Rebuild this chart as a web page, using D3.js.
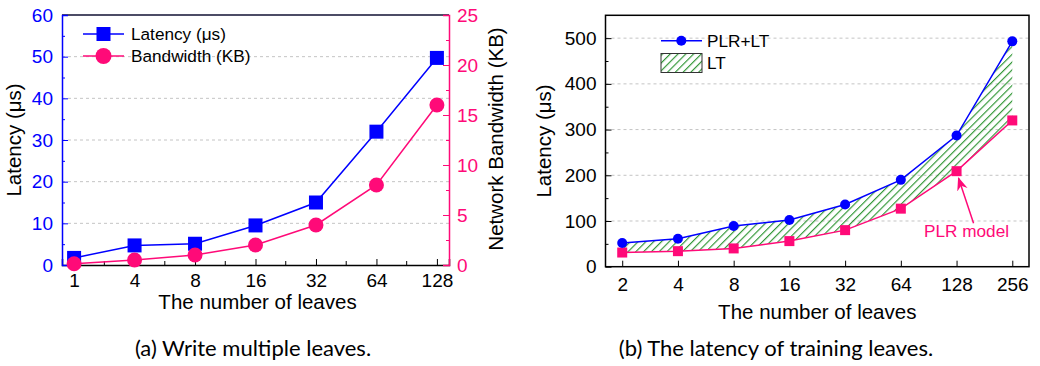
<!DOCTYPE html>
<html>
<head>
<meta charset="utf-8">
<script src="https://cdn.jsdelivr.net/npm/d3@7"></script>
<style>
body { margin: 0; background: #fff; }
svg text { font-family: "Liberation Sans", Arimo, Arial, sans-serif; }
svg text.caption { font-family: Lato, "Open Sans", sans-serif; }
</style>
</head>
<body>
<svg id="chart" width="1040" height="366" font-family="Liberation Sans, Arial, sans-serif"></svg>
<script>
// panel (a): write multiple leaves
const leavesA = ["1", "4", "8", "16", "32", "64", "128"];
const latencyA = [1.7, 4.7, 5.1, 9.5, 15, 32, 49.7];
const bandwidthA = [0.125, 0.5, 1, 2, 4, 8, 16];
const latTicksA = [0, 10, 20, 30, 40, 50, 60];
const bwTicksA = [0, 5, 10, 15, 20, 25];

// panel (b): latency of training leaves
const leavesB = ["2", "4", "8", "16", "32", "64", "128", "256"];
const plrLt = [52, 61, 89, 102, 136, 190, 287, 493];
const plr = [31, 34, 40, 56, 80, 127, 209, 320];
const latTicksB = [0, 100, 200, 300, 400, 500];

const blue = "#0000ff", pink = "#ff0a78", green = "#25902a";

const svg = d3.select("#chart");

// hatch for the LT area
const defs = svg.append("defs");
defs.append("pattern")
    .attr("id", "hatch")
    .attr("patternUnits", "userSpaceOnUse")
    .attr("width", 5.5).attr("height", 5.5)
    .attr("patternTransform", "rotate(45)")
  .append("line")
    .attr("x1", 0.6).attr("y1", 0).attr("x2", 0.6).attr("y2", 5.5)
    .attr("stroke", green).attr("stroke-width", 1.1);
defs.append("marker")
    .attr("id", "arrow")
    .attr("viewBox", "0 0 10 10")
    .attr("refX", 9).attr("refY", 5)
    .attr("markerWidth", 9).attr("markerHeight", 9)
    .attr("orient", "auto")
  .append("path")
    .attr("d", "M0,1 L10,5 L0,9 L3,5 Z")
    .attr("fill", pink);

// small helper: minor ticks halfway between point categories
function midpoints(x, cats) {
    let out = [];
    for (let i = 0; i < cats.length - 1; i++) out.push((x(cats[i]) + x(cats[i + 1])) / 2);
    return out;
}

// ---------------- panel (a) ----------------
function drawA() {
    const L = 62, R = 449, T = 15, B = 265;
    let x = d3.scalePoint().domain(leavesA).range([L, R]).padding(0.2);
    let y = d3.scaleLinear().domain([0, 60]).range([B, T]);
    let y2 = d3.scaleLinear().domain([0, 25]).range([B, T]);
    let g = svg.append("g");

    // grid
    g.selectAll(".grid").data(latTicksA.slice(1, -1)).enter().append("line")
        .attr("x1", L).attr("x2", R).attr("y1", d => y(d)).attr("y2", d => y(d))
        .attr("stroke", "#c4c4c4").attr("stroke-dasharray", "3,3");

    // top border
    g.append("line").attr("x1", L).attr("x2", R).attr("y1", T).attr("y2", T)
        .attr("stroke", "#111133").attr("stroke-width", 1.5);

    // bottom axis
    let xa = g.append("g").attr("transform", `translate(0,${B})`)
        .call(d3.axisBottom(x).tickSize(-6).tickPadding(5));
    xa.attr("font-family", null);
    xa.select(".domain").attr("stroke", "#000").attr("stroke-width", 1.5);
    xa.selectAll("text").attr("font-size", 19).attr("fill", "#000").attr("dy", "0.9em");
    g.selectAll(".xminor").data(midpoints(x, leavesA)).enter().append("line")
        .attr("x1", d => d).attr("x2", d => d).attr("y1", B).attr("y2", B - 4)
        .attr("stroke", "#000");

    // left axis (blue)
    let ya = g.append("g").attr("transform", `translate(${L},0)`)
        .call(d3.axisLeft(y).tickValues(latTicksA).tickSize(-6).tickPadding(9));
    ya.attr("font-family", null);
    ya.select(".domain").attr("stroke", blue).attr("stroke-width", 1.5);
    ya.selectAll("line").attr("stroke", blue);
    ya.selectAll("text").attr("font-size", 19).attr("fill", blue);
    g.append("g").attr("transform", `translate(${L},0)`)
        .call(d3.axisLeft(y).tickValues(d3.range(5, 60, 10)).tickSize(-3).tickFormat(""))
        .call(a => a.select(".domain").remove())
        .selectAll("line").attr("stroke", blue);

    // right axis (pink)
    let yb = g.append("g").attr("transform", `translate(${R},0)`)
        .call(d3.axisRight(y2).tickValues(bwTicksA).tickSize(-6).tickPadding(8));
    yb.attr("font-family", null);
    yb.select(".domain").attr("stroke", pink).attr("stroke-width", 1.5);
    yb.selectAll("line").attr("stroke", pink);
    yb.selectAll("text").attr("font-size", 19).attr("fill", pink);
    g.append("g").attr("transform", `translate(${R},0)`)
        .call(d3.axisRight(y2).tickValues(d3.range(2.5, 25, 5)).tickSize(-3).tickFormat(""))
        .call(a => a.select(".domain").remove())
        .selectAll("line").attr("stroke", pink);

    // titles
    g.append("text").attr("transform", "translate(21,140) rotate(-90)")
        .attr("text-anchor", "middle").attr("font-size", 20.5).text("Latency (μs)");
    g.append("text").attr("transform", "translate(503,139) rotate(-90)")
        .attr("text-anchor", "middle").attr("font-size", 20.5).text("Network Bandwidth (KB)");
    g.append("text").attr("x", (L + R) / 2 + 2).attr("y", 309)
        .attr("text-anchor", "middle").attr("font-size", 20.5).text("The number of leaves");

    // lines + markers
    let lat = leavesA.map((c, i) => [x(c), y(latencyA[i])]);
    let bw = leavesA.map((c, i) => [x(c), y2(bandwidthA[i])]);
    g.append("path").attr("d", d3.line()(lat)).attr("fill", "none")
        .attr("stroke", blue).attr("stroke-width", 1.5);
    g.append("path").attr("d", d3.line()(bw)).attr("fill", "none")
        .attr("stroke", pink).attr("stroke-width", 1.5);
    g.selectAll(".sq").data(lat).enter().append("rect")
        .attr("x", d => d[0] - 7).attr("y", d => d[1] - 7)
        .attr("width", 14).attr("height", 14).attr("fill", blue);
    g.selectAll(".ci").data(bw).enter().append("circle")
        .attr("cx", d => d[0]).attr("cy", d => d[1]).attr("r", 7.5).attr("fill", pink);

    // legend
    g.append("line").attr("x1", 83).attr("x2", 124).attr("y1", 34).attr("y2", 34)
        .attr("stroke", blue).attr("stroke-width", 1.5);
    g.append("rect").attr("x", 96.5).attr("y", 27).attr("width", 14).attr("height", 14).attr("fill", blue);
    g.append("text").attr("x", 131).attr("y", 40).attr("font-size", 17.2).text("Latency (μs)");
    g.append("line").attr("x1", 83).attr("x2", 124).attr("y1", 56).attr("y2", 56)
        .attr("stroke", pink).attr("stroke-width", 1.5);
    g.append("circle").attr("cx", 103.5).attr("cy", 56).attr("r", 8).attr("fill", pink);
    g.append("text").attr("x", 131).attr("y", 62).attr("font-size", 17.2).text("Bandwidth (KB)");

    svg.append("text").attr("class", "caption").attr("x", 253).attr("y", 356)
        .attr("text-anchor", "middle").attr("font-size", 22).text("(a) Write multiple leaves.");
}

// ---------------- panel (b) ----------------
function drawB() {
    const L = 605.5, R = 1029, T = 15.3, B = 266.7;
    let x = d3.scalePoint().domain(leavesB).range([L, R]).padding(0.3);
    let y = d3.scaleLinear().domain([0, 550]).range([B, T]);
    let g = svg.append("g");

    g.selectAll(".grid").data(latTicksB.slice(1)).enter().append("line")
        .attr("x1", L).attr("x2", R).attr("y1", d => y(d)).attr("y2", d => y(d))
        .attr("stroke", "#c4c4c4").attr("stroke-dasharray", "3,3");

    // hatched LT region between the two curves
    let area = d3.area().x((d, i) => x(leavesB[i])).y0((d, i) => y(plr[i])).y1(d => y(d));
    g.append("path").attr("d", area(plrLt)).attr("fill", "url(#hatch)");

    // frame
    g.append("rect").attr("x", L).attr("y", T).attr("width", R - L).attr("height", B - T)
        .attr("fill", "none").attr("stroke", "#000").attr("stroke-width", 1.5);

    let xa = g.append("g").attr("transform", `translate(0,${B})`)
        .call(d3.axisBottom(x).tickSize(-6).tickPadding(6));
    xa.attr("font-family", null);
    xa.select(".domain").remove();
    xa.selectAll("text").attr("font-size", 19).attr("fill", "#000").attr("dy", "0.95em");

    let ya = g.append("g").attr("transform", `translate(${L},0)`)
        .call(d3.axisLeft(y).tickValues(latTicksB).tickSize(-6).tickPadding(9));
    ya.attr("font-family", null);
    ya.select(".domain").remove();
    ya.selectAll("text").attr("font-size", 19).attr("fill", "#000");
    g.append("g").attr("transform", `translate(${L},0)`)
        .call(d3.axisLeft(y).tickValues(d3.range(50, 550, 100)).tickSize(-3).tickFormat(""))
        .call(a => a.select(".domain").remove());

    g.append("text").attr("transform", "translate(551,141) rotate(-90)")
        .attr("text-anchor", "middle").attr("font-size", 20.5).text("Latency (μs)");
    g.append("text").attr("x", (L + R) / 2).attr("y", 319)
        .attr("text-anchor", "middle").attr("font-size", 20.5).text("The number of leaves");

    let up = leavesB.map((c, i) => [x(c), y(plrLt[i])]);
    let lo = leavesB.map((c, i) => [x(c), y(plr[i])]);
    g.append("path").attr("d", d3.line()(lo)).attr("fill", "none")
        .attr("stroke", pink).attr("stroke-width", 1.5);
    g.append("path").attr("d", d3.line()(up)).attr("fill", "none")
        .attr("stroke", blue).attr("stroke-width", 1.5);
    g.selectAll(".sq").data(lo).enter().append("rect")
        .attr("x", d => d[0] - 5).attr("y", d => d[1] - 5)
        .attr("width", 10).attr("height", 10).attr("fill", pink);
    g.selectAll(".ci").data(up).enter().append("circle")
        .attr("cx", d => d[0]).attr("cy", d => d[1]).attr("r", 5).attr("fill", blue);

    // annotation pointing at the 128-leaf PLR point
    let ax = x("128"), ay = y(plr[6]);
    g.append("line").attr("x1", ax + 17).attr("y1", ay + 52).attr("x2", ax + 2).attr("y2", ay + 7)
        .attr("stroke", pink).attr("stroke-width", 1.5).attr("marker-end", "url(#arrow)");
    g.append("text").attr("x", ax + 10).attr("y", ay + 66).attr("text-anchor", "middle")
        .attr("font-size", 17.2).attr("fill", pink).text("PLR model");

    // legend
    g.append("line").attr("x1", 661).attr("x2", 702).attr("y1", 40.7).attr("y2", 40.7)
        .attr("stroke", blue).attr("stroke-width", 1.5);
    g.append("circle").attr("cx", 681.3).attr("cy", 40.7).attr("r", 5).attr("fill", blue);
    g.append("text").attr("x", 707).attr("y", 47).attr("font-size", 17.2).text("PLR+LT");
    g.append("rect").attr("x", 661).attr("y", 53.5).attr("width", 41).attr("height", 19)
        .attr("fill", "url(#hatch)").attr("stroke", "#333").attr("stroke-width", 1);
    g.append("text").attr("x", 707).attr("y", 69).attr("font-size", 17.2).text("LT");

    svg.append("text").attr("class", "caption").attr("x", 776).attr("y", 356)
        .attr("text-anchor", "middle").attr("font-size", 22).text("(b) The latency of training leaves.");
}

drawA();
drawB();
</script>
</body>
</html>
